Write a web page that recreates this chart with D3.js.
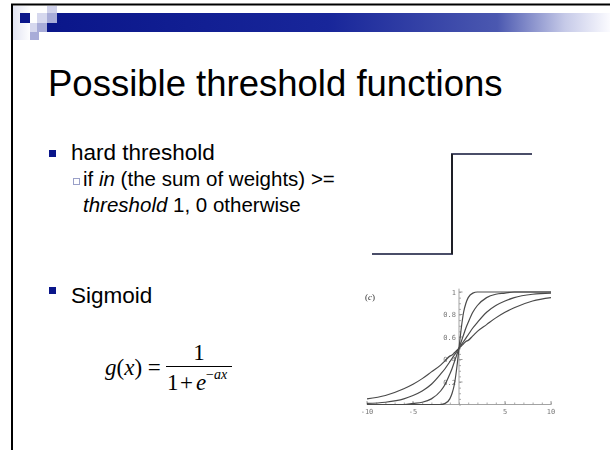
<!DOCTYPE html>
<html>
<head>
<meta charset="utf-8">
<script src="https://cdn.jsdelivr.net/npm/d3@7"></script>
<style>
  html, body { margin: 0; padding: 0; background: #fff; }
  svg { display: block; }
</style>
</head>
<body>
<svg id="slide" width="610" height="450"></svg>
<script>
// ---- data ----
const titleText = "Possible threshold functions";
const bulletTexts = ["hard threshold", "Sigmoid"];

// hard threshold: output 0 below the threshold, 1 at/above it
const stepIn = [-1, 0, 1];
const stepOut = [0, 1, 1];

// sigmoid family g(x) = 1 / (1 + e^(-ax)) for four gains
const sigX = [-10, -8, -6, -5, -4, -3, -2, -1.5, -1, -0.75, -0.5, -0.25, 0,
              0.25, 0.5, 0.75, 1, 1.5, 2, 3, 4, 5, 6, 8, 10];
const sigShallow = [0.05, 0.08, 0.14, 0.18, 0.23, 0.29, 0.35, 0.39, 0.43, 0.44, 0.46, 0.48, 0.5,
                    0.52, 0.54, 0.56, 0.57, 0.61, 0.65, 0.71, 0.77, 0.82, 0.86, 0.92, 0.95];
const sigMedium  = [0.01, 0.02, 0.05, 0.08, 0.12, 0.18, 0.27, 0.32, 0.38, 0.41, 0.44, 0.47, 0.5,
                    0.53, 0.56, 0.59, 0.62, 0.68, 0.73, 0.82, 0.88, 0.92, 0.95, 0.98, 0.99];
const sigUnit    = [0, 0, 0, 0.01, 0.02, 0.05, 0.12, 0.18, 0.27, 0.32, 0.38, 0.44, 0.5,
                    0.56, 0.62, 0.68, 0.73, 0.82, 0.88, 0.95, 0.98, 0.99, 1, 1, 1];
const sigSteep   = [0, 0, 0, 0, 0, 0, 0, 0.01, 0.05, 0.1, 0.18, 0.32, 0.5,
                    0.68, 0.82, 0.9, 0.95, 0.99, 1, 1, 1, 1, 1, 1, 1];
const sigSeries = [sigShallow, sigMedium, sigUnit, sigSteep];

const xTickVals = [-10, -5, 5, 10];
const xTickLabels = ["-10", "-5", "5", "10"];
const yTickVals = [0.2, 0.4, 0.6, 0.8, 1];
const yTickLabels = ["0.2", "0.4", "0.6", "0.8", "1"];

// ---- drawing ----
const svg = d3.select("#slide");
const defs = svg.append("defs");
const sans = "'Liberation Sans', Arial, sans-serif";
const serif = "'Liberation Serif', 'Times New Roman', serif";

// slide frame decorations
const band = defs.append("linearGradient").attr("id", "band")
  .attr("gradientUnits", "userSpaceOnUse").attr("x1", 47).attr("x2", 610).attr("y1", 0).attr("y2", 0);
[[0, "#0a168a"], [0.5, "#18269a"], [0.8, "#4b58b0"], [0.92, "#c6cae8"], [1, "#fbfbff"]]
  .forEach(([o, c]) => band.append("stop").attr("offset", o).attr("stop-color", c));
const pale = defs.append("linearGradient").attr("id", "pale");
pale.append("stop").attr("offset", 0).attr("stop-color", "#e2e4f2");
pale.append("stop").attr("offset", 1).attr("stop-color", "#ffffff");

svg.append("rect").attr("x", 13).attr("y", 6).attr("width", 18).attr("height", 34).attr("fill", "url(#pale)");
svg.append("rect").attr("x", 57).attr("y", 13).attr("width", 553).attr("height", 19).attr("fill", "url(#band)");
svg.append("rect").attr("x", 47).attr("y", 23).attr("width", 10).attr("height", 9).attr("fill", "#0a168a");
const tiles = [
  [47, 6, 10, 7, "#cfd1ea"],
  [20, 13, 10, 10, "#0a168a"],
  [37, 13, 10, 10, "#d6d8ee"],
  [47, 13, 10, 10, "#a8acd8"],
  [30, 23, 7, 9, "#d6d8ee"],
  [37, 23, 10, 9, "#a8acd8"],
  [30, 32, 9, 8, "#a8acd8"]
];
svg.selectAll("rect.tile").data(tiles).join("rect").attr("class", "tile")
  .attr("x", d => d[0]).attr("y", d => d[1]).attr("width", d => d[2]).attr("height", d => d[3])
  .attr("fill", d => d[4]);
svg.append("line").attr("x1", 11).attr("x2", 610).attr("y1", 4.5).attr("y2", 4.5)
  .attr("stroke", "#000").attr("stroke-width", 2);
svg.append("line").attr("x1", 12).attr("x2", 12).attr("y1", 4).attr("y2", 450)
  .attr("stroke", "#000").attr("stroke-width", 2);

// title
svg.append("text").attr("x", 48).attr("y", 96).attr("font-family", sans).attr("font-size", 36.5)
  .attr("fill", "#000").text(titleText);

// bullets
svg.append("rect").attr("x", 49).attr("y", 150).attr("width", 7).attr("height", 7).attr("fill", "#0a168a");
svg.append("text").attr("x", 71).attr("y", 160).attr("font-family", sans).attr("font-size", 22.5).text(bulletTexts[0]);

svg.append("rect").attr("x", 73.5).attr("y", 178.5).attr("width", 6).attr("height", 6)
  .attr("fill", "none").attr("stroke", "#9aa0c8").attr("stroke-width", 1);
const sub1 = svg.append("text").attr("x", 83).attr("y", 186).attr("font-family", sans).attr("font-size", 20.5);
sub1.append("tspan").text("if ");
sub1.append("tspan").attr("font-style", "italic").text("in");
sub1.append("tspan").text(" (the sum of weights) >=");
const sub2 = svg.append("text").attr("x", 83).attr("y", 212).attr("font-family", sans).attr("font-size", 20.5);
sub2.append("tspan").attr("font-style", "italic").text("threshold");
sub2.append("tspan").text(" 1, 0 otherwise");

svg.append("rect").attr("x", 49).attr("y", 287).attr("width", 7).attr("height", 7).attr("fill", "#0a168a");
svg.append("text").attr("x", 71).attr("y", 303).attr("font-family", sans).attr("font-size", 22.5).text(bulletTexts[1]);

// formula g(x) = 1 / (1 + e^(-ax))
const f1 = svg.append("text").attr("x", 105).attr("y", 375).attr("font-family", serif).attr("font-size", 23);
f1.append("tspan").attr("font-style", "italic").text("g");
f1.append("tspan").text("(");
f1.append("tspan").attr("font-style", "italic").text("x");
f1.append("tspan").text(") =");
svg.append("line").attr("x1", 166).attr("x2", 232).attr("y1", 366.5).attr("y2", 366.5)
  .attr("stroke", "#000").attr("stroke-width", 1.1);
svg.append("text").attr("x", 199).attr("y", 360).attr("text-anchor", "middle")
  .attr("font-family", serif).attr("font-size", 23).text("1");
const f2 = svg.append("text").attr("y", 390).attr("font-family", serif).attr("font-size", 23);
f2.append("tspan").attr("x", 167).text("1");
f2.append("tspan").attr("x", 180).text("+");
f2.append("tspan").attr("x", 196).attr("font-style", "italic").text("e");
const f3 = svg.append("text").attr("x", 206).attr("y", 379).attr("font-family", serif).attr("font-size", 14);
f3.append("tspan").text("\u2212");
f3.append("tspan").attr("font-style", "italic").text("ax");

// hard threshold step plot
const sx = d3.scaleLinear().domain([-1, 1]).range([372, 532]);
const sy = d3.scaleLinear().domain([0, 1]).range([254, 154]);
const stepPts = stepIn.map((v, i) => [v, stepOut[i]]);
svg.append("path").datum(stepPts)
  .attr("d", d3.line().x(d => sx(d[0])).y(d => sy(d[1])).curve(d3.curveStepAfter))
  .attr("fill", "none").attr("stroke", "#4a4d68").attr("stroke-width", 2);
svg.append("line").attr("x1", sx(0)).attr("x2", sx(0)).attr("y1", sy(0)).attr("y2", sy(1))
  .attr("stroke", "#111").attr("stroke-width", 1.5);

// sigmoid plot
defs.append("filter").attr("id", "soft").append("feGaussianBlur").attr("stdDeviation", 0.35);
const plot = svg.append("g").attr("filter", "url(#soft)");
const x = d3.scaleLinear().domain([-10, 10]).range([367, 551]);
const y = d3.scaleLinear().domain([0, 1]).range([404.5, 292]);
const mono = "'DejaVu Sans Mono', 'Liberation Mono', monospace";

// minor ticks point into the plot
plot.append("g").attr("transform", `translate(0,${y(0)})`)
  .call(d3.axisBottom(x).tickValues(d3.range(-10, 11, 1)).tickSize(-2).tickFormat(""));
plot.append("g").attr("transform", `translate(${x(0)},0)`)
  .call(d3.axisLeft(y).tickValues(d3.range(0, 1.01, 0.05)).tickSize(-2).tickFormat(""));
plot.selectAll(".domain").remove();
plot.selectAll(".tick line").attr("stroke", "#aaa");
plot.append("line").attr("x1", x(-10)).attr("x2", x(10)).attr("y1", y(0)).attr("y2", y(0))
  .attr("stroke", "#999").attr("stroke-width", 0.9);
plot.append("line").attr("x1", x(0)).attr("x2", x(0)).attr("y1", y(0)).attr("y2", y(1.03))
  .attr("stroke", "#999").attr("stroke-width", 0.9);
// major ticks a bit longer
plot.selectAll("line.xmaj").data(xTickVals).join("line").attr("class", "xmaj")
  .attr("x1", d => x(d)).attr("x2", d => x(d)).attr("y1", y(0)).attr("y2", y(0) - 3.5).attr("stroke", "#999");
plot.selectAll("line.ymaj").data(yTickVals).join("line").attr("class", "ymaj")
  .attr("x1", x(0)).attr("x2", x(0) + 3.5).attr("y1", d => y(d)).attr("y2", d => y(d)).attr("stroke", "#999");

plot.selectAll("text.xl").data(xTickVals).join("text").attr("class", "xl")
  .attr("x", d => x(d)).attr("y", y(0) + 9).attr("text-anchor", "middle")
  .attr("font-family", mono).attr("font-size", 7).attr("fill", "#777")
  .text((d, i) => xTickLabels[i]);
plot.selectAll("text.yl").data(yTickVals).join("text").attr("class", "yl")
  .attr("x", x(0) - 3).attr("y", d => y(d) + 2.5).attr("text-anchor", "end")
  .attr("font-family", mono).attr("font-size", 7).attr("fill", "#777")
  .text((d, i) => yTickLabels[i]);

const curve = d3.line().x((d, i) => x(sigX[i])).y(d => y(d)).curve(d3.curveMonotoneX);
plot.selectAll("path.sig").data(sigSeries).join("path").attr("class", "sig")
  .attr("d", curve).attr("fill", "none").attr("stroke", "#4a4a4a").attr("stroke-width", 1.2);

// panel label (c)
const panel = plot.append("text").attr("x", 365).attr("y", 300)
  .attr("font-family", serif).attr("font-size", 9).attr("fill", "#333");
panel.append("tspan").text("(");
panel.append("tspan").attr("font-style", "italic").text("c");
panel.append("tspan").text(")");
</script>
</body>
</html>
